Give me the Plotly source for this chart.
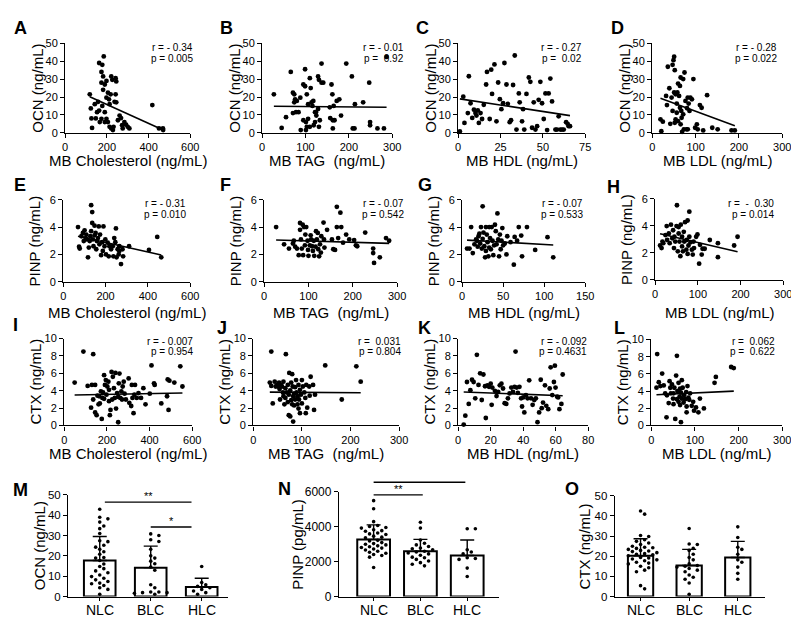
import numpy as np
import plotly.graph_objects as go

W, H = 799, 618
FONT = "Liberation Sans, Arial, Helvetica, sans-serif"

# ---------------- data: scatter panels ----------------
a_x = [118,123,126,129,147,142,158,163,178,185,174,182,174,190,198,182,198,205,210,213,218,221,226,242,245,242,237,245,178,190,198,205,213,221,229,190,166,153,163,174,232,253,261,268,273,284,292,300,308,276,418,450,469,470]
a_y = [21.5,13.6,8,2.7,8,16,17.3,39,38,42.7,34,31.5,28,27,29,24,19.6,22.4,18.7,16,21.5,31.5,29.6,30.5,28.7,21.5,17.3,17,15,11.5,7.8,6,3.3,2.4,1.5,6,6,11.5,12.4,7.8,3.3,7,9.6,8.2,4.2,6,4.5,3.3,2.4,2.4,15.5,2.4,2.4,1.5]

b_x = [27,55,45,66,71,74,76,80,74,71,78,84,88,89,95,95,99,99,101,103,101,103,106,106,110,112,114,116,118,119,122,124,125,129,129,131,131,133,137,137,141,122,110,156,157,160,162,163,165,167,163,172,178,182,194,207,209,213,214,233,247,249,249,266,281,287]
b_y = [21.5,8.7,2.7,34,22.4,21.5,18.7,17.8,17,11,11.5,11.5,19.6,1.5,7,27,26,35.5,6,3.3,1.5,21.5,16,7.8,30.5,25,17,15,17.8,4.2,6,11.5,9.6,13.3,31.5,29.6,3.3,7,38.7,28,28,11.5,3.3,14.2,8.2,27,21.5,7,15,7,2.4,17.8,18.7,9.6,38.7,31.5,2.4,2.4,16,17,28,6,4.2,2.4,2.4,42.4]

c_x = [1,3,3.7,5.7,6.3,7.3,8.3,9.3,10.2,10.8,11.6,12.2,13.2,14.1,15.1,16.5,17,18.6,19.5,20,21.4,22.6,23.6,24.6,25.5,26.5,27.3,28.5,29.3,30.4,31.2,32.4,33.4,34.4,35.8,36.3,37.7,38.3,39,40.3,41.7,42.6,43.6,44.6,45.6,46.6,47.5,48.5,49.5,50.5,51.5,52.5,53.4,54.4,55.4,57.4,58.3,59.3,60.3,61.3,62.3,63.7,64.6,65.2,66]
c_y = [0.7,20.2,5.5,11,31.6,16.5,8.3,12.9,11,9.6,12.5,5.5,11,7.7,15.6,27,34,7.7,35.3,21.7,38.2,6.4,28.1,18.8,13.2,16.5,39,27,16.2,5.9,7,26.7,43.2,1.8,22,17,6.4,13.2,1.8,21.7,30.9,28.5,2.8,17,1.8,3.7,18.4,28.5,16.5,7.7,22,1.5,22,30.3,17.5,1.8,1.8,9.2,1.8,1.8,1.8,5.9,5,3.7,3.7]

d_x = [19,21,24.5,32,34,36,39.5,41.7,44.7,47,49,50.6,52,54,52,56.6,59.6,62,64,65.5,67,64,69,71.5,73,74.5,76.7,79,82,84,86,82,88,91.6,95,99,103,105,110,114,117.6,126.6,138.5,151,183,190.6,47,54,59.6,65.5,67.8,71.5,56.6,50.6,58,80.4]
d_y = [7.5,0.9,6.2,20.6,15.5,36.9,24.9,5,19.7,38,40.6,42.5,35,21.5,5.6,11.2,27.5,20.6,26.2,30.9,12.2,14,0.5,30,1.9,33.7,17.8,1.9,19.7,16.3,12.2,1.9,19.7,18.7,30,2.8,4.7,1.9,15.5,14,1.3,21,2.8,1.9,1.3,1.3,12.2,7.5,6.5,4.7,8.4,10.3,16.3,22.5,22.5,13.7]

e_x = [70,75,78,86,93,97,101,106,109,112,117,121,125,128,132,132,137,137,140,143,148,148,153,156,159,164,168,171,174,179,184,187,190,195,199,202,210,215,218,226,234,237,246,252,257,262,265,273,280,283,265,249,241,311,405,444,463]
e_y = [4.0,2.57,2.43,3.33,3.57,2.98,3.76,3.2,3.45,3.1,1.79,2.5,2.98,3.33,5.6,3.7,5.1,4.3,3.1,2.6,4.1,3.4,3.57,2.38,2.98,3.2,4.05,2.74,3.45,1.95,2.9,2.26,4.05,2.6,3.1,2.0,2.86,1.86,2.6,2.38,2.6,1.86,2.9,1.79,2.38,2.0,2.26,1.3,2.38,1.86,2.6,3.9,3.2,2.6,2.33,3.28,1.79]

f_x = [27,45,56,65,67,70,74,78,81,81,83,85,87,88,90,92,93,95,98,99,100,103,105,106,108,110,112,113,116,117,119,121,122,124,126,128,129,134,135,136,142,153,156,160,164,164,167,172,174,178,185,192,203,207,210,228,246,246,248,261,275,282]
f_y = [4.0,2.74,2.43,2.8,3.0,2.57,2.43,1.95,3.8,4.3,3.1,2.43,4.17,1.95,4.0,2.67,3.45,4.0,3.0,2.33,1.9,2.67,3.4,3.1,2.6,2.26,3.0,1.9,2.57,3.7,3.1,3.57,2.38,1.86,2.74,2.14,3.33,4.33,3.1,2.5,3.8,3.1,2.38,2.33,4.0,5.48,3.2,5.05,4.0,2.86,3.45,3.1,3.05,2.67,2.6,3.6,2.43,2.1,1.38,1.79,3.2,3.0]

g_x = [6,9,11,13,15,17,18,19,20,21,22,23,24,25,25,26,27,28,29,29,30,31,32,33,33,34,35,36,37,38,39,40,41,42,43,44,45,46,47,48,49,50,52,54,55,59,63,64,67,69,72,73,79,89,104,111]
g_y = [2.43,2.43,4.0,2.1,2.74,3.1,3.0,2.57,3.33,3.52,2.8,4.0,2.43,3.14,5.52,3.6,2.6,1.79,4.0,2.26,3.45,2.9,1.86,4.0,2.5,3.2,2.38,4.0,3.0,1.95,2.67,4.17,3.7,2.74,5.0,3.1,1.86,3.45,2.38,3.0,3.93,2.67,2.8,2.0,3.33,2.9,1.25,3.28,3.0,4.0,3.38,1.86,4.0,2.33,3.26,1.79]

h_x = [11.5,15,17,19,24,27,28,32,34,37,40,42,44,45,47,50,51,53,55,55,57,59,60,63,63,65,67,68,70,73,74,76,76,78,80,80,83,86,88,90,91,96,99,103,105,109,111,116,128,147,147,185,193]
h_y = [2.54,2.35,2.83,2.71,3.31,3.98,2.95,3.43,2.71,4.08,3.07,3.67,2.35,3.19,2.83,3.98,5.52,2.11,3.91,3.43,2.83,1.75,4.08,3.19,2.47,2.11,3.55,2.83,4.27,2.23,2.95,1.92,4.39,2.54,5.04,3.19,2.78,2.23,1.87,2.83,2.35,3.19,3.36,1.2,2.59,1.87,2.3,2.3,2.95,2.71,1.68,2.54,3.19]

i_x = [49,90,110,130,136,126,136,145,145,152,156,161,164,167,172,176,179,182,187,187,191,195,198,202,207,210,210,214,217,222,225,228,233,237,240,243,248,253,253,256,259,263,268,271,274,279,283,289,302,305,314,317,320,325,329,332,340,348,360,371,381,401,409,421,424,455,482,485,489,493,516,544,554]
i_y = [4.93,8.5,4.55,4.66,8.2,2.05,2.99,4.66,1.49,1.19,3.43,2.43,3.36,2.54,3.92,0.75,3.17,3.8,5.78,3.06,4.66,5.22,3.54,4.48,5.04,4.1,2.8,1.19,1.79,6.16,2.99,5.6,4.29,3.17,6.04,1.94,3.73,3.28,0.37,4.85,5.97,3.17,3.92,2.99,4.48,5.04,3.66,2.99,5.41,2.61,2.24,4.66,3.17,1.42,3.54,4.66,3.17,3.73,3.17,4.29,2.43,3.66,6.9,4.85,4.66,2.54,3.36,5.3,1.79,5.15,4.93,6.8,4.48]

j_x = [34,37,37,40,44,46,49,51,53,54,55,57,59,61,62,62,64,66,66,67,69,71,71,73,73,74,76,76,78,78,80,80,81,82,82,84,84,86,86,88,89,91,91,93,93,94,96,96,98,100,100,102,105,107,108,109,111,115,116,118,123,125,127,148,182,212,221]
j_y = [4.93,8.5,4.55,2.54,5.04,4.48,4.66,4.48,4.93,4.18,2.99,4.66,4.48,3.8,5.04,3.36,2.43,4.29,3.17,8.2,3.8,4.66,2.69,3.54,1.19,6.04,1.04,4.03,2.91,4.93,5.9,2.43,4.48,3.36,0.45,3.66,2.31,4.4,2.99,5.22,3.8,2.43,3.36,4.66,1.94,2.99,4.1,1.42,3.54,5.22,2.54,4.48,3.8,3.17,1.42,4.66,2.05,4.48,3.43,5.6,4.66,1.79,3.54,6.9,2.99,6.8,5.04]

k_x = [3.4,4.4,5.4,6.5,7.5,8.5,9.5,10.5,11.5,12.5,13.5,14.5,15.5,16.5,17,18,19,20,20.6,21,22.6,23.6,24.6,25.6,26.6,27.6,28.6,29.6,30.6,31.6,32.7,33.7,34.7,35.3,36,36.7,37.7,38.7,39.3,40,40.7,41.7,42.7,43.7,44.8,45.8,46.8,47.8,48.8,49.8,50.8,51.4,52.2,53.4,54.2,55.4,56.3,56.9,57.9,58.9,59.5,59.9,60.9,61.5,62.3,63.5,64.3]
k_y = [0.11,1.13,5.0,2.48,4.06,5.26,5.0,3.12,8.12,4.66,6.0,2.93,5.86,4.51,0.86,4.62,4.44,4.81,2.37,4.36,3.98,3.38,3.87,4.62,4.81,4.25,2.56,2.48,3.12,3.68,4.36,3.87,4.44,8.5,4.36,3.76,4.44,3.12,2.18,3.23,1.5,3.5,3.12,5.19,3.12,2.37,2.93,3.12,0.38,1.5,5.26,1.99,2.63,4.62,2.26,1.88,4.25,6.69,3.5,5.0,6.88,4.36,3.31,3.23,1.88,2.48,5.86]

l_x = [13.6,12,17.3,21,25,28.6,32,35,36,40,42,43.7,45,47.5,50,51,53,55,57,58.8,60,62.5,62.5,65,66,68,68,70,70,72,74,75,77.6,80,81,83,85,89,92.7,96,98,102.5,108,111.5,120.6,145,148,183,189,51,58.8,66,81,87]
l_y = [8.3,4.4,5.04,4.58,6.03,4.66,3.74,0.95,3.51,2.6,5.15,4.39,3.74,4.77,3.13,2.48,4.39,0.76,5.8,8.1,4.0,4.96,2.75,3.36,2.37,0.38,3.82,5.27,3.13,4.39,2.67,3.51,3.05,3.89,2.21,4.58,3.24,3.74,2.29,2.75,1.72,2.1,1.53,3.13,1.98,4.96,5.65,6.8,6.68,3.74,3.05,4.27,1.53,2.98]

# regression lines (slope, intercept), panels A..L
fit_slopes = [-0.0528, -0.0023, -0.144, -0.0894, -0.00348, -0.00097, -0.0034, -0.00739, 0.00045, -0.0004, -0.0071, 0.0024]
fit_intercepts = [26.4, 14.9, 19.1, 21.0, 3.57, 3.08, 3.07, 3.5, 3.48, 3.85, 3.88, 3.54]

r_texts = ["r = - 0.34", "r = - 0.01", "r = - 0.27", "r = - 0.28",
           "r = - 0.31", "r = - 0.07", "r = - 0.07", "r =  -  0.30",
           "r = - 0.007", "r =  0.031", "r = - 0.092", "r =  0.062"]
p_texts = ["p = 0.005", "p =  0.92", "p =  0.02", "p = 0.022",
           "p = 0.010", "p = 0.542", "p = 0.533", "p = 0.014",
           "p = 0.954", "p = 0.804", "p = 0.4631", "p =  0.622"]

x_titles = ["MB Cholesterol (ng/mL)", "MB TAG  (ng/mL)", "MB HDL (ng/mL)", "MB LDL (ng/mL)"]
y_titles_rows = ["OCN (ng/mL)", "PINP (ng/mL)", "CTX (ng/mL)"]
x_max = [600, 300, 75, 300, 600, 300, 150, 300, 600, 300, 80, 300]
x_step = [200, 100, 25, 100, 200, 100, 50, 100, 200, 100, 20, 100]
y_max_rows = [50, 6, 10]
y_step_rows = [10, 2, 2]

# ---------------- data: bar panels ----------------
categories = ["NLC", "BLC", "HLC"]
m_nlc = [42.9,39,38.2,36.6,34.7,33.4,31,27,27.4,25.2,24.3,23.2,22,20.8,19.2,18.9,17.7,16,14.8,13.7,12.6,11.7,10.6,9.8,9,8.2,7.4,6.6,6.3,5.4,4.3,3.5,1.1]
m_blc = [30.8,30,27.9,27.1,23.2,20,18.9,17.4,16.1,14.5,12.9,5.8,4.3,2.2,1.9,1.6,1.1,1.9,2.2]
m_hlc = [14.8,6.9,5.8,4.3,2.7,1.9,1.1,3.5,5.0]
m_mean = [17.7, 14.2, 4.7]
m_sd = [11.8, 10.6, 4.3]

n_nlc = [5500,5037,4296,4074,4018,3926,3833,3741,3648,3556,3463,3370,3222,3093,3000,2963,2907,2852,2778,2667,2593,2481,2352,2259,1667,3963,3778,3593,3407,3185,3037,2815,2722,2537,2407]
n_blc = [4260,3926,3240,3056,2963,2870,2778,2685,2593,2556,2444,2370,2259,2130,2037,1944,1852,1759,2740,2500,2222]
n_hlc = [3889,3889,2685,2556,2222,2185,2130,1630,1148,2444]
n_mean = [3278, 2593, 2352]
n_sd = [833, 685, 889]

o_nlc = [42.5,40.9,30.3,29.8,28.2,27.4,26.6,25.8,25,24.5,23.9,23.4,22.9,22.3,21.8,21.3,20.7,20.2,19.4,18.6,17.8,17,16.2,15,14.3,13.1,12.3,5.4,3.8,24.2,22.6,21,19.1,18.2,16.6]
o_blc = [33.8,26.1,25.8,23.9,22.9,21,19.4,18.2,16.2,15.4,15,14.6,13.9,12.3,10.7,8.6,6.7,1.1,9.6,13.1]
o_hlc = [34.6,29.3,24.5,23.4,21,18.2,17,14.6,11.5,8.6]
o_mean = [20.2, 15.4, 19.4]
o_sd = [8.5, 8.0, 8.0]

# significance brackets: (from, to, level, label)
m_sig = [(0.1, 1.8, 46.4, "**"), (1.0, 1.8, 34.2, "*")]
n_sig = [(0.0, 1.96, 6556, "**"), (0.0, 1.05, 5833, "**")]

# ---------------- layout geometry (pixels) ----------------
letters = list("ABCDEFGHIJKLMNO")
geom = {
    'A': (55, 182, 29, 120.5), 'B': (255, 387, 29, 120.5), 'C': (454, 583, 29, 120.5), 'D': (651, 783, 29, 120.5),
    'E': (53, 182, 189, 273), 'F': (257, 392, 189, 273), 'G': (458, 583, 189, 273), 'H': (654, 784, 188, 271),
    'I': (54, 184, 331, 420), 'J': (246, 394, 331, 420), 'K': (454, 586, 331, 420), 'L': (650, 783, 332, 420),
    'M': (58, 220, 491, 595), 'N': (333, 495, 488, 595), 'O': (613, 765, 492, 595),
}
letter_pos = {'A': (10, 13), 'B': (219, 13), 'C': (418, 13), 'D': (616, 13),
              'E': (9, 174), 'F': (218, 174), 'G': (420, 174), 'H': (612, 176),
              'I': (5, 317), 'J': (214, 320), 'K': (420, 320), 'L': (618, 320),
              'M': (10, 486), 'N': (278, 485), 'O': (570, 485)}
xtitle_y = [149, 304, 449]
rp_y = [(33, 45), (193, 204), (334, 344)]
rp_right = [187, 401, 582, 780, 180, 401, 583, 777, 187, 398, 587, 778]
cat_label_y = 608.5


def px_x(p):
    return p / W


def px_y(p):
    return 1 - p / H


def ax_keys(k):
    return ("xaxis" if k == 1 else f"xaxis{k}", "yaxis" if k == 1 else f"yaxis{k}",
            "x" if k == 1 else f"x{k}", "y" if k == 1 else f"y{k}")


def base_axis():
    return dict(showline=True, linecolor='black', linewidth=1.3, ticks='outside', ticklen=4,
                tickwidth=1.3, tickcolor='black', showgrid=False, zeroline=False,
                tickfont=dict(family=FONT, size=11, color='black'), fixedrange=True)


fig = go.Figure()
layout = dict(width=W, height=H, margin=dict(l=0, r=0, t=0, b=0), paper_bgcolor='white',
              plot_bgcolor='white', showlegend=False, font=dict(family=FONT, color='black'))
annotations = []
shapes = []

scatter_x = [a_x, b_x, c_x, d_x, e_x, f_x, g_x, h_x, i_x, j_x, k_x, l_x]
scatter_y = [a_y, b_y, c_y, d_y, e_y, f_y, g_y, h_y, i_y, j_y, k_y, l_y]

for idx in range(12):
    k = idx + 1
    L = letters[idx]
    row, col = divmod(idx, 4)
    x0, x1, yt, yb = geom[L]
    xk, yk, xr, yr = ax_keys(k)
    xa = base_axis()
    xa.update(domain=[px_x(x0), px_x(x1)], range=[0, x_max[idx]], tick0=0, dtick=x_step[idx], anchor=yr)
    ya = base_axis()
    ya.update(domain=[px_y(yb), px_y(yt)], range=[0, y_max_rows[row]], tick0=0, dtick=y_step_rows[row], anchor=xr)
    layout[xk] = xa
    layout[yk] = ya
    xs = np.array(scatter_x[idx], dtype=float)
    ys = np.array(scatter_y[idx], dtype=float)
    fig.add_trace(go.Scatter(x=xs, y=ys, mode='markers', xaxis=xr, yaxis=yr, cliponaxis=False,
                             marker=dict(size=4.8, color='black'), hoverinfo='skip'))
    lx = np.array([xs.min(), xs.max()])
    ly = fit_intercepts[idx] + fit_slopes[idx] * lx
    fig.add_trace(go.Scatter(x=lx, y=ly, mode='lines', xaxis=xr, yaxis=yr,
                             line=dict(color='black', width=1.6), hoverinfo='skip'))
    # axis titles
    annotations.append(dict(x=px_x((x0 + x1) / 2), y=px_y(xtitle_y[row]), xref='paper', yref='paper',
                            text=x_titles[col], showarrow=False, xanchor='center', yanchor='middle',
                            font=dict(family=FONT, size=15, color='black')))
    annotations.append(dict(x=px_x(x0 - 29), y=px_y((yt + yb) / 2), xref='paper', yref='paper',
                            text=y_titles_rows[row], showarrow=False, textangle=-90,
                            xanchor='center', yanchor='middle',
                            font=dict(family=FONT, size=15, color='black')))
    # r / p
    for txt, yy in zip((r_texts[idx], p_texts[idx]), rp_y[row]):
        annotations.append(dict(x=px_x(rp_right[idx]), y=px_y(yy), xref='paper', yref='paper',
                                text=txt.replace(' ', '\u00a0'), showarrow=False, xanchor='right',
                                yanchor='middle', font=dict(family=FONT, size=10, color='black')))


def swarm_offsets(vals, ppx_y, ppx_x, diam):
    vals = np.asarray(vals, dtype=float)
    order = np.argsort(-vals)
    placed = []
    offs = np.zeros(len(vals))
    cands = [0.0]
    for j in range(1, 40):
        cands += [j * diam * 0.9, -j * diam * 0.9]
    for i in order:
        ypx = vals[i] * ppx_y
        chosen = 0.0
        for c in cands:
            if all((c - px) ** 2 + (ypx - py) ** 2 >= diam ** 2 for px, py in placed):
                chosen = c
                break
        placed.append((chosen, ypx))
        offs[i] = chosen / ppx_x
    return offs


bar_specs = [
    ('M', [m_nlc, m_blc, m_hlc], m_mean, m_sd, 50, 10, (-0.62, 2.51), 0.62, "OCN (ng/mL)", 29, m_sig, 11.5),
    ('N', [n_nlc, n_blc, n_hlc], n_mean, n_sd, 6000, 2000, (-0.74, 2.67), 0.70, "PINP (pg/mL)", 42, n_sig, 12),
    ('O', [o_nlc, o_blc, o_hlc], o_mean, o_sd, 50, 10, (-0.53, 2.55), 0.52, "CTX (ng/mL)", 31, [], 11.5),
]

for j, (L, groups, means, sds, ymax, ystep, xrng, bw, ytitle, yoff, sig, tfs) in enumerate(bar_specs):
    k = 13 + j
    x0, x1, yt, yb = geom[L]
    xk, yk, xr, yr = ax_keys(k)
    xa = base_axis()
    xa.update(domain=[px_x(x0), px_x(x1)], range=list(xrng), tickvals=[0, 1, 2], showticklabels=False,
              ticklen=3, anchor=yr)
    ya = base_axis()
    ya.update(domain=[px_y(yb), px_y(yt)], range=[0, ymax], tick0=0, dtick=ystep, anchor=xr,
              tickfont=dict(family=FONT, size=tfs, color='black'))
    layout[xk] = xa
    layout[yk] = ya
    fig.add_trace(go.Bar(x=[0, 1, 2], y=means, width=bw, xaxis=xr, yaxis=yr,
                         marker=dict(color='white', line=dict(color='black', width=2)),
                         error_y=dict(type='data', symmetric=False, array=sds, arrayminus=[0, 0, 0],
                                      color='black', thickness=1.4, width=7),
                         hoverinfo='skip'))
    ppx_x = (x1 - x0) / (xrng[1] - xrng[0])
    ppx_y = (yb - yt) / ymax
    for g, vals in enumerate(groups):
        offs = swarm_offsets(vals, ppx_y, ppx_x, 4.6)
        fig.add_trace(go.Scatter(x=g + offs, y=vals, mode='markers', xaxis=xr, yaxis=yr, cliponaxis=False,
                                 marker=dict(size=3.6, color='black'), hoverinfo='skip'))
    # category labels
    for g, cat in enumerate(categories):
        annotations.append(dict(x=g, y=px_y(cat_label_y), xref=xr, yref='paper', text=cat,
                                showarrow=False, xanchor='center', yanchor='middle', borderpad=0,
                                font=dict(family=FONT, size=14, color='black')))
    annotations.append(dict(x=px_x(x0 - yoff), y=px_y((yt + yb) / 2), xref='paper', yref='paper',
                            text=ytitle, showarrow=False, textangle=-90, xanchor='center',
                            yanchor='middle', font=dict(family=FONT, size=15, color='black')))
    span = xrng[1] - xrng[0]
    for (a, b, lev, lab) in sig:
        shapes.append(dict(type='line', xref=f'{xr} domain', yref=f'{yr} domain',
                           x0=(a - xrng[0]) / span, x1=(b - xrng[0]) / span,
                           y0=lev / ymax, y1=lev / ymax, line=dict(color='black', width=1.3)))
        annotations.append(dict(x=(a + b) / 2, y=lev, xref=xr, yref=yr, text=lab, showarrow=False,
                                xanchor='center', yanchor='bottom', yshift=-2,
                                font=dict(family=FONT, size=11, color='black')))

# panel letters
for L in letters:
    px, py = letter_pos[L]
    annotations.append(dict(x=px_x(px), y=px_y(py), xref='paper', yref='paper', text=f"<b>{L}</b>",
                            showarrow=False, xanchor='center', yanchor='middle',
                            font=dict(family=FONT, size=18, color='black')))

layout['annotations'] = annotations
layout['shapes'] = shapes
fig.update_layout(**layout)
fig.write_html("out.html")
